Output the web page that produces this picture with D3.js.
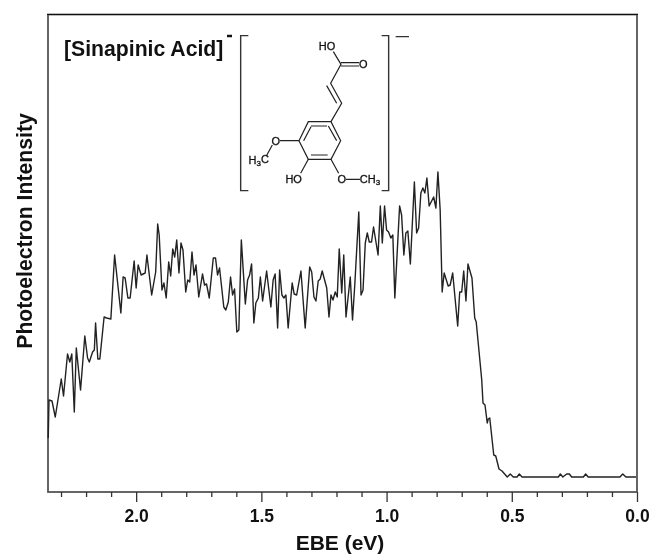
<!DOCTYPE html>
<html>
<head>
<meta charset="utf-8">
<script src="https://cdn.jsdelivr.net/npm/d3@7"></script>
<style>
body{margin:0;background:#fff}
svg{display:block;filter:blur(0.35px)}
text{font-family:"Liberation Sans",Arial,sans-serif;fill:#111}
.bold{font-weight:bold}
.spectrum{fill:none;stroke:#222;stroke-width:1.4;stroke-linejoin:round}
.frame{fill:none;stroke:#555;stroke-width:1.8}
.tick line,.domain{stroke:#333;stroke-width:1.3}
.bond{fill:none;stroke:#222;stroke-width:1}
.bracket{fill:none;stroke:#333;stroke-width:1.2}
</style>
</head>
<body>
<script>
var ebe = [2.351,2.348,2.336,2.323,2.299,2.290,2.274,2.265,2.257,2.247,2.239,2.222,2.205,2.194,2.187,2.174,2.167,2.162,2.153,2.145,
	2.128,2.118,2.101,2.086,2.061,2.052,2.044,2.033,2.024,2.008,2.000,1.992,1.980,1.964,1.957,1.938,1.922,1.914,1.908,1.897,
	1.889,1.880,1.870,1.862,1.854,1.846,1.838,1.829,1.821,1.813,1.802,1.794,1.786,1.777,1.769,1.761,1.750,1.735,1.727,1.719,
	1.708,1.692,1.683,1.675,1.667,1.650,1.642,1.632,1.623,1.615,1.607,1.598,1.590,1.580,
	1.564,1.555,1.547,1.539,1.530,1.522,1.512,1.504,1.495,1.479,1.462,1.453,1.445,1.435,1.427,1.418,1.410,1.402,1.393,1.377,
	1.369,1.359,1.342,1.325,1.307,1.299,1.290,1.282,1.273,1.265,1.257,1.239,1.230,1.222,1.214,1.205,1.197,1.189,1.179,1.171,
	1.162,1.145,1.136,1.127,1.111,1.102,1.094,1.085,1.077,1.069,1.060,1.052,1.034,1.025,1.017,1.008,1.000,0.992,0.983,0.975,
	0.967,0.948,0.940,0.931,0.923,0.915,0.905,0.889,0.880,0.872,0.863,0.855,0.847,0.839,0.830,0.812,0.803,0.795,0.786,0.778,
	0.770,0.754,0.746,0.736,0.716,0.708,0.700,0.692,0.683,0.675,0.659,0.648,0.642,0.634,0.620,0.615,0.607,0.598,0.594,0.588,
	0.572,0.564,0.551,0.539,0.518,0.506,0.494,0.479,0.470,0.459,0.314,0.306,0.296,0.281,0.270,0.261,0.214,0.205,0.195,0.068,
	0.057,0.044,0.004]
var intensity = [39,77,76,60,98,81,123,115,123,65,129,87,141,119,115,125,127,154,118,118,
	160,159,158,222,164,200,199,179,179,216,189,212,202,204,222,182,205,253,242,187,
	194,179,215,201,228,220,237,204,234,227,185,197,195,225,202,212,180,203,192,193,
	179,219,219,202,209,170,167,175,200,182,188,145,147,237,
	173,197,202,213,154,174,179,200,176,206,170,197,203,149,207,182,179,182,149,194,
	183,182,206,149,210,205,180,176,196,198,206,189,160,182,177,185,180,228,184,222,
	160,200,157,192,265,182,187,234,244,235,235,250,222,271,234,271,247,245,239,242,
	179,271,262,222,244,246,213,295,244,249,284,289,284,299,271,280,269,305,267,185,
	204,191,192,204,151,185,185,206,176,213,199,159,155,134,97,74,72,54,58,59,
	22,21,8,6,0,3,0,0,3,0,0,3,0,3,3,0,0,3,0,0,
	3,0,0]
var majorTicks = [2.0,1.5,1.0,0.5,0.0]
var minorTicks = [2.3,2.2,2.1,1.9,1.8,1.7,1.6,1.4,1.3,1.2,1.1,0.9,0.8,0.7,0.6,0.4,0.3,0.2,0.1]

var svg = d3.select("body").append("svg")
	.attr("width",653)
	.attr("height",554)

var x = d3.scaleLinear().domain([2.352,0]).range([48,637])
var y = d3.scaleLinear().domain([-15,462.5]).range([492,14.5])

// frame first, spectrum goes over it
svg.append("rect")
	.attr("class","frame")
	.attr("x",48)
	.attr("y",14.5)
	.attr("width",589)
	.attr("height",477.5)
svg.append("line")
	.attr("x1",47).attr("x2",638)
	.attr("y1",14.5).attr("y2",14.5)
	.style("stroke","#111")
	.style("stroke-width",1.2)

svg.append("g")
	.attr("transform","translate(0,492)")
	.call(d3.axisBottom(x).tickValues(minorTicks).tickSize(5).tickFormat(""))
	.call(function(g){ g.select(".domain").remove() })

var major = svg.append("g")
	.attr("transform","translate(0,492)")
	.call(d3.axisBottom(x).tickValues(majorTicks).tickSize(10).tickFormat(d3.format(".1f")))
major.select(".domain").remove()
major.selectAll("text")
	.attr("class","bold")
	.attr("y",30)
	.attr("dy",0)
	.style("font-size","17.5px")
	.style("font-family","'Liberation Sans',Arial,sans-serif")

var line = d3.line()
	.x(function(d,i){ return x(ebe[i]) })
	.y(function(d){ return y(d) })

svg.append("path")
	.datum(intensity)
	.attr("class","spectrum")
	.attr("d",line)

svg.append("text")
	.attr("class","bold")
	.attr("x",340).attr("y",550)
	.attr("text-anchor","middle")
	.style("font-size","21px")
	.text("EBE (eV)")

svg.append("text")
	.attr("class","bold")
	.attr("transform","translate(32,231) rotate(-90)")
	.attr("text-anchor","middle")
	.style("font-size","21.2px")
	.text("Photoelectron Intensity")

svg.append("text")
	.attr("class","bold")
	.attr("x",64).attr("y",56)
	.style("font-size","21.2px")
	.text("[Sinapinic Acid]")
svg.append("line")
	.attr("x1",227).attr("x2",232)
	.attr("y1",36).attr("y2",36)
	.style("stroke","#111")
	.style("stroke-width",2.5)

// molecule, coordinates taken at 3x so the group is scaled down
var mol = svg.append("g").attr("transform","translate(225,20) scale(0.3333)")

function bond(p){
	mol.append("path").attr("class","bond").style("stroke-width",3.6).attr("d",p)
}
function label(str,cx,cy){
	mol.append("text")
		.attr("x",cx).attr("y",cy)
		.attr("text-anchor","middle")
		.attr("dy","0.36em")
		.style("font-size","33px")
		.style("stroke","#111")
		.style("stroke-width",0.9)
		.text(str)
}
function labelSub(a,b,c,cx,cy){
	var t = mol.append("text")
		.attr("x",cx).attr("y",cy)
		.attr("text-anchor","middle")
		.attr("dy","0.36em")
		.style("font-size","33px")
		.style("stroke","#111")
		.style("stroke-width",0.9)
	t.append("tspan").text(a)
	t.append("tspan").attr("dy","0.25em").style("font-size","24px").text(b)
	if(c) t.append("tspan").attr("dy","-0.25em").text(c)
}

mol.append("path").attr("class","bracket").style("stroke-width",4.2)
	.attr("d","M70,47H47V512H70M470,47H491V512H470M512,50H552")

bond("M250,305L318,305L347,362L318,418L250,418L222,362Z")
bond("M258,318L306,318M335,362L310,318M258,405L308,405M236,362L258,320")
bond("M318,305L350,250L317,190L348,133L325,95")
bond("M305,197L335,250")
bond("M348,128H402M348,138H402")
bond("M222,362H165M142,375L124,408")
bond("M250,418L227,460")
bond("M318,418L341,460M363,478H405")

label("HO",306,77)
label("O",415,133)
label("O",152,362)
labelSub("H","3","C",101,420)
label("HO",206,478)
label("O",350,478)
labelSub("CH","3","",435,478)
</script>
</body>
</html>
